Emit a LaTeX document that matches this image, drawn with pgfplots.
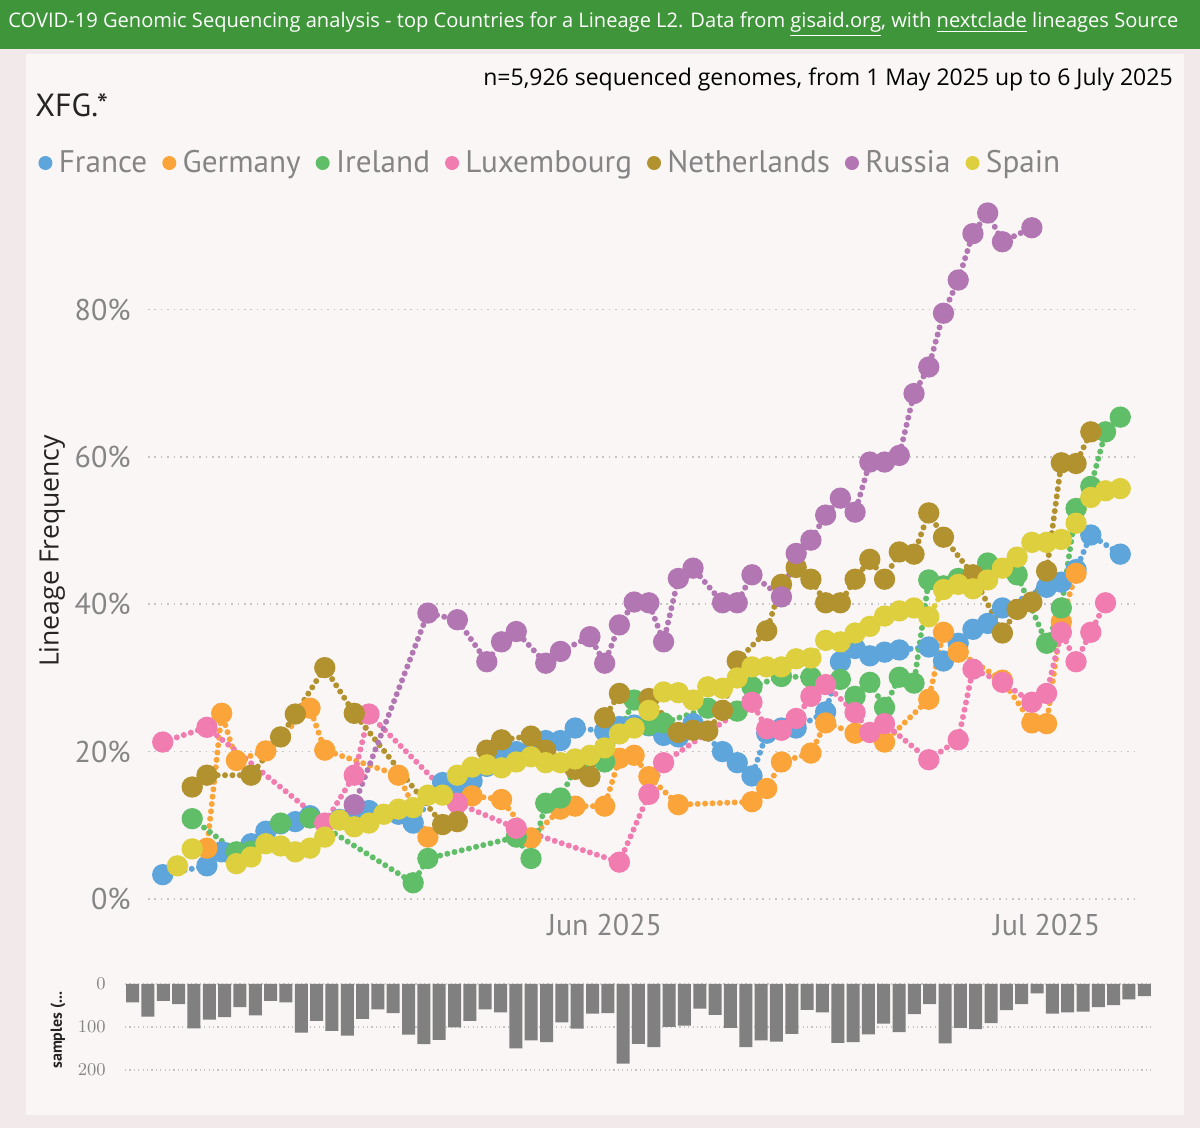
\documentclass[border=0pt]{standalone}
\usepackage{pgfplots}
\pgfplotsset{compat=1.18}
\usepackage{fontspec}
\setmainfont{PT Sans}
\newfontfamily\hdr{Open Sans}
\definecolor{cFr}{HTML}{5DA5DA}
\definecolor{cDe}{HTML}{FAA43A}
\definecolor{cIe}{HTML}{60BD68}
\definecolor{cLu}{HTML}{F17CB0}
\definecolor{cNl}{HTML}{B2912F}
\definecolor{cRu}{HTML}{B276B2}
\definecolor{cEs}{HTML}{DECF3F}
\definecolor{hdrgreen}{HTML}{3F963A}
\definecolor{outbg}{HTML}{F2EAEA}
\definecolor{panel}{HTML}{FAF6F5}
\definecolor{lgray}{HTML}{858585}
\definecolor{dark}{HTML}{252423}
\definecolor{gridc}{HTML}{C4C4C4}
\definecolor{barc}{HTML}{808080}
\begin{document}
\begin{tikzpicture}[x=0.5pt,y=0.5pt]
\useasboundingbox (0,0) rectangle (1200,1128);
\fill[outbg] (0,0) rectangle (1200,1128);
\fill[panel] (26,13) rectangle (1184,1074);
\fill[hdrgreen] (0,1079) rectangle (1200,1128);
\node[anchor=base west, text=white, font=\hdr\fontsize{10.05}{12}\selectfont, inner sep=0pt] at (8,1100) {COVID-19 Genomic Sequencing analysis - top Countries for a Lineage L2. Data from \underline{gisaid.org}, with \underline{nextclade} lineages Source};
\node[anchor=base east, text=black, font=\hdr\fontsize{11.5}{13}\selectfont, inner sep=0pt] at (1173,1042) {n=5,926 sequenced genomes, from 1 May 2025 up to 6 July 2025};
\node[anchor=west, text=dark, font=\fontsize{16}{19}\selectfont, inner sep=0pt] at (35,1023) {XFG.*};
\node[rotate=90, text=dark, font=\hdr\fontsize{13.3}{15}\selectfont, inner sep=0pt] at (52,577) {Lineage Frequency};
\node[rotate=90, text=dark, font=\bfseries\fontsize{8}{9}\selectfont, inner sep=0pt] at (58,98) {samples (...};

\begin{axis}[
  at={(74pt,114.5pt)}, anchor=south west,
  scale only axis, width=493.5pt, height=350pt,
  xmin=1, xmax=68, ymin=0, ymax=95,
  clip=false,
  axis line style={draw=none},
  major tick length=0pt,
  ytick={0,20,40,60,80},
  yticklabels={0\%,20\%,40\%,60\%,80\%},
  xtick={32,62},
  xticklabels={Jun 2025,Jul 2025},
  ticklabel style={font=\fontsize{15}{18}\selectfont, text=lgray},
  yticklabel style={anchor=east, inner sep=0pt, xshift=-8.5pt},
  xticklabel style={anchor=base, inner sep=0pt, yshift=-18.5pt},
  ymajorgrids,
  grid style={gridc, line width=0.8pt, dash pattern=on 0.8pt off 2.4pt},
  legend columns=-1,
  legend style={at={(-0.1114,1.0514)}, anchor=west, draw=none, fill=none, inner sep=0pt,
    font=\fontsize{15.6}{18}\selectfont, text=lgray,
    nodes={inner xsep=0pt, inner ysep=1pt},
    /tikz/every odd column/.style={column sep=3.2pt},
    /tikz/every even column/.style={column sep=7.5pt}},
  legend image code/.code={\fill[#1, draw=none, solid] (3.5pt,0pt) circle (3.5pt);},
  every axis plot/.append style={line width=3pt, line cap=round, dash pattern=on 0pt off 3.7pt, mark=*, mark size=3.8pt, mark options={solid}},
]
\addplot[color=cFr] coordinates {(2,3.3)(5,4.5)(6,6.4)(7,6.2)(8,7.5)(9,9.2)(10,10.2)(11,10.5)(12,11.3)(14,10.8)(15,11.4)(16,12)(18,11.5)(19,10.3)(21,15.8)(22,15.5)(23,16)(24,18)(25,19)(26,20)(27,20)(28,21.5)(29,21.5)(30,23.2)(32,22.8)(33,23.4)(34,23.6)(35,23.5)(36,22.2)(37,22)(38,23.8)(40,20)(41,18.5)(42,16.7)(43,22.5)(44,23.2)(45,23.2)(47,25.4)(48,32.2)(49,34)(50,33)(51,33.5)(52,33.8)(54,34.2)(55,32.3)(56,34.7)(57,36.6)(58,37.4)(59,39.5)(62,42.3)(63,43)(64,44.7)(65,49.4)(67,46.8)};
\addlegendentry{France}
\addplot[color=cDe] coordinates {(5,6.9)(6,25.2)(7,18.8)(9,20.1)(12,25.9)(13,20.2)(18,16.8)(20,8.4)(23,14.0)(25,13.5)(27,8.3)(29,12.2)(30,12.6)(32,12.6)(33,19.1)(34,19.5)(35,16.6)(37,12.8)(42,13.2)(43,15)(44,18.6)(46,19.8)(47,23.9)(49,22.5)(51,21.3)(54,27.1)(55,36.2)(56,33.5)(59,29.7)(61,23.9)(62,23.8)(63,37.6)(64,44.2)};
\addlegendentry{Germany}
\addplot[color=cIe] coordinates {(4,10.9)(7,6.4)(8,6.5)(10,10.3)(12,11.0)(19,2.2)(20,5.5)(26,8.4)(27,5.5)(28,13)(29,13.7)(30,17.8)(32,18.6)(34,27)(35,23.6)(36,23.9)(39,25.9)(41,25.5)(42,28.8)(44,30.2)(46,30.1)(48,29.8)(49,27.5)(50,29.4)(51,26)(52,30.1)(53,29.3)(54,43.3)(55,42.5)(56,43.5)(58,45.6)(60,44)(62,34.7)(63,39.5)(64,53)(65,56)(66,63.4)(67,65.4)};
\addlegendentry{Ireland}
\addplot[color=cLu] coordinates {(2,21.3)(5,23.3)(13,10.3)(15,16.8)(16,25.1)(22,13)(26,9.6)(33,5.0)(35,14.2)(36,18.5)(42,26.7)(43,23.1)(44,22.9)(45,24.5)(46,27.5)(47,29.1)(49,25.3)(50,22.6)(51,23.8)(54,18.9)(56,21.6)(57,31.2)(59,29.4)(61,26.7)(62,27.9)(63,36.2)(64,32.2)(65,36.2)(66,40.2)};
\addlegendentry{Luxembourg}
\addplot[color=cNl] coordinates {(4,15.2)(5,16.8)(8,16.8)(10,22)(11,25.1)(13,31.4)(15,25.2)(21,10.1)(22,10.5)(24,20.2)(25,21.6)(27,22.1)(28,20.2)(30,17.6)(31,16.6)(32,24.6)(33,27.9)(35,27.2)(37,22.6)(38,22.9)(39,22.8)(40,25.6)(41,32.3)(43,36.4)(44,42.7)(45,45)(46,43.4)(47,40.2)(48,40.2)(49,43.4)(50,46.1)(51,43.4)(52,47.1)(53,46.8)(54,52.4)(55,49.1)(57,44)(59,36.1)(60,39.3)(61,40.3)(62,44.5)(63,59.2)(64,59.1)(65,63.4)};
\addlegendentry{Netherlands}
\addplot[color=cRu] coordinates {(15,12.8)(20,38.8)(22,37.9)(24,32.2)(25,34.9)(26,36.3)(28,32.0)(29,33.6)(31,35.6)(32,32.0)(33,37.2)(34,40.3)(35,40.2)(36,34.9)(37,43.5)(38,44.9)(40,40.2)(41,40.2)(42,44.0)(44,41.0)(45,46.9)(46,48.7)(47,52.1)(48,54.4)(49,52.5)(50,59.3)(51,59.3)(52,60.2)(53,68.6)(54,72.2)(55,79.5)(56,84.0)(57,90.3)(58,93.1)(59,89.2)(61,91.1)};
\addlegendentry{Russia}
\addplot[color=cEs] coordinates {(3,4.5)(4,6.8)(7,4.8)(8,5.7)(9,7.5)(10,7.2)(11,6.4)(12,6.9)(13,8.4)(14,10.7)(15,9.8)(16,10.3)(17,11.5)(18,12.2)(19,12.4)(20,14.1)(21,14.1)(22,16.8)(23,17.9)(24,18.2)(25,17.8)(26,18.6)(27,19.3)(28,18.5)(29,18.5)(30,19)(31,19.5)(32,20.5)(33,22.4)(34,23.2)(35,25.6)(36,28.1)(37,28)(38,27)(39,28.8)(40,28.6)(41,30)(42,31.5)(43,31.5)(44,31.5)(45,32.6)(46,32.7)(47,35.1)(48,34.9)(49,36.1)(50,37)(51,38.4)(52,39.1)(53,39.5)(54,38.3)(55,42)(56,42.7)(57,42.1)(58,43.3)(59,44.9)(60,46.4)(61,48.4)(62,48.4)(63,48.8)(64,51)(65,54.5)(66,55.4)(67,55.7)};
\addlegendentry{Spain}
\end{axis}

\begin{axis}[
  at={(62.5pt,29pt)}, anchor=south west, scale only axis,
  width=513.5pt, height=43pt,
  xmin=0.5, xmax=67.5, ymin=0, ymax=200, y dir=reverse,
  clip=false, axis line style={draw=none}, major tick length=0pt,
  xtick=\empty, ytick={0,100,200},
  yticklabel style={font=\fontsize{8.8}{10}\selectfont, text=lgray, anchor=east, inner sep=0pt, xshift=-9.5pt},
  ymajorgrids,
  grid style={gridc, line width=0.6pt, dash pattern=on 0.6pt off 1.6pt},
  ybar, bar width=6.5pt,
]
\addplot[fill=barc, draw=none] coordinates {(1,43)(2,76)(3,39)(4,47)(5,103)(6,83)(7,77)(8,54)(9,73)(10,39)(11,43)(12,113)(13,86)(14,109)(15,120)(16,81)(17,59)(18,68)(19,118)(20,140)(21,130)(22,101)(23,86)(24,59)(25,66)(26,150)(27,131)(28,135)(29,89)(30,104)(31,69)(32,68)(33,185)(34,139)(35,147)(36,100)(37,97)(38,57)(39,72)(40,102)(41,147)(42,131)(43,134)(44,116)(45,60)(46,66)(47,137)(48,135)(49,117)(50,92)(51,112)(52,70)(53,47)(54,138)(55,102)(56,105)(57,91)(58,61)(59,47)(60,22)(61,69)(62,66)(63,64)(64,54)(65,49)(66,36)(67,28)};
\end{axis}
\end{tikzpicture}
\end{document}
